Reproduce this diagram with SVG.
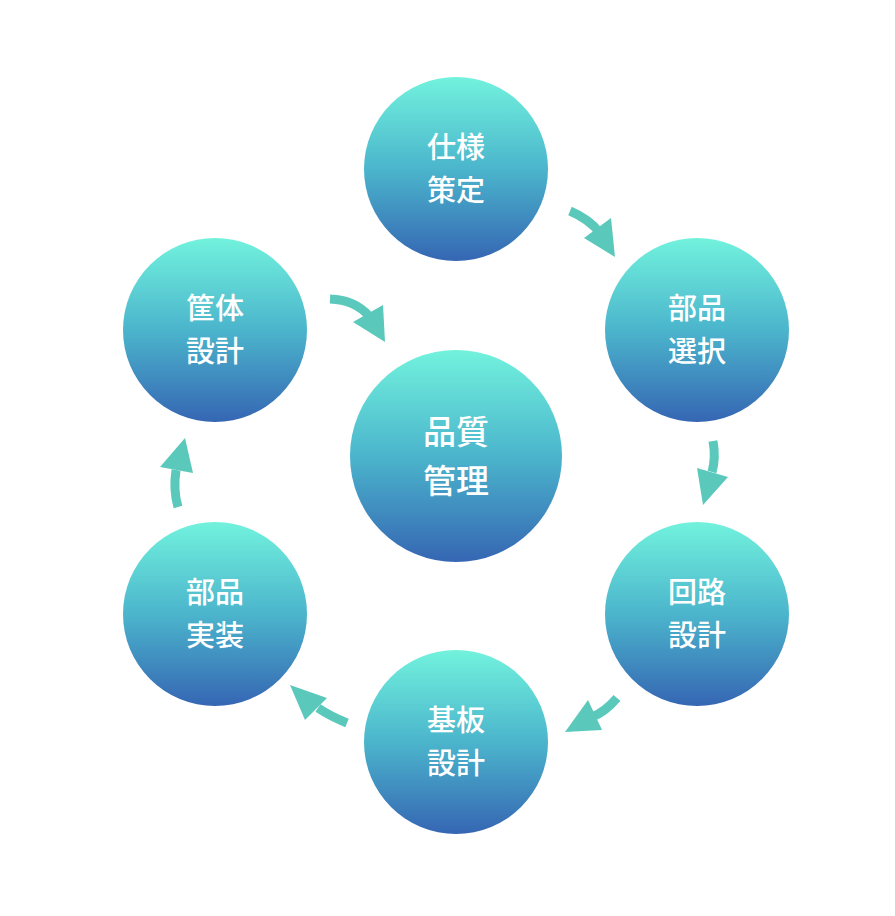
<svg xmlns="http://www.w3.org/2000/svg" width="895" height="916" viewBox="0 0 895 916">
<defs>
<linearGradient id="g" x1="0" y1="0" x2="0" y2="1">
<stop offset="0" stop-color="#72F2DD"/>
<stop offset="0.5" stop-color="#4BB5CC"/>
<stop offset="1" stop-color="#3566B3"/>
</linearGradient>
<style>
.c{fill:url(#g)}
.t{fill:#fff;font-family:"Noto Sans CJK JP","Noto Sans CJK SC",sans-serif;font-size:29px;font-weight:500;text-anchor:middle}
.tb{font-size:33px}
.a{fill:none;stroke:#5BC8BC;stroke-width:9}
.h{fill:#5BC8BC}
</style>
</defs>
<rect width="895" height="916" fill="#fff"/>
<g id="n1"><circle class="c" cx="456" cy="169" r="92"/><text class="t" x="456" y="158">仕様</text><text class="t" x="456" y="201">策定</text></g>
<g id="n2"><circle class="c" cx="697" cy="330" r="92"/><text class="t" x="697" y="319">部品</text><text class="t" x="697" y="362">選択</text></g>
<g id="n3"><circle class="c" cx="697" cy="614" r="92"/><text class="t" x="697" y="603">回路</text><text class="t" x="697" y="646">設計</text></g>
<g id="n4"><circle class="c" cx="456" cy="742" r="92"/><text class="t" x="456" y="731">基板</text><text class="t" x="456" y="774">設計</text></g>
<g id="n5"><circle class="c" cx="215" cy="614" r="92"/><text class="t" x="215" y="603">部品</text><text class="t" x="215" y="646">実装</text></g>
<g id="n6"><circle class="c" cx="215" cy="330" r="92"/><text class="t" x="215" y="319">筐体</text><text class="t" x="215" y="362">設計</text></g>
<g id="center"><circle class="c" cx="456" cy="456" r="106"/><text class="t tb" x="456" y="444">品質</text><text class="t tb" x="456" y="493">管理</text></g>
<g id="connectors">
<path class="a" d="M570,211 Q589,219 600,233"/><polygon class="h" points="584,238 611,218 615,257"/>
<path class="a" d="M330,299 Q355,300 369,316"/><polygon class="h" points="353,322 383,305 385,342"/>
<path class="a" d="M713,441 Q716,458 712,472"/><polygon class="h" points="697,468 728,477 703,505"/>
<path class="a" d="M617,698 Q605,712 592,717"/><polygon class="h" points="588,700 602,730 565,732"/>
<path class="a" d="M347,723 Q330,716 318,708"/><polygon class="h" points="327,698 305,720 290,685"/>
<path class="a" d="M178,507 Q173,490 176,470"/><polygon class="h" points="160,467 193,473 185,438"/>
</g>
</svg>
